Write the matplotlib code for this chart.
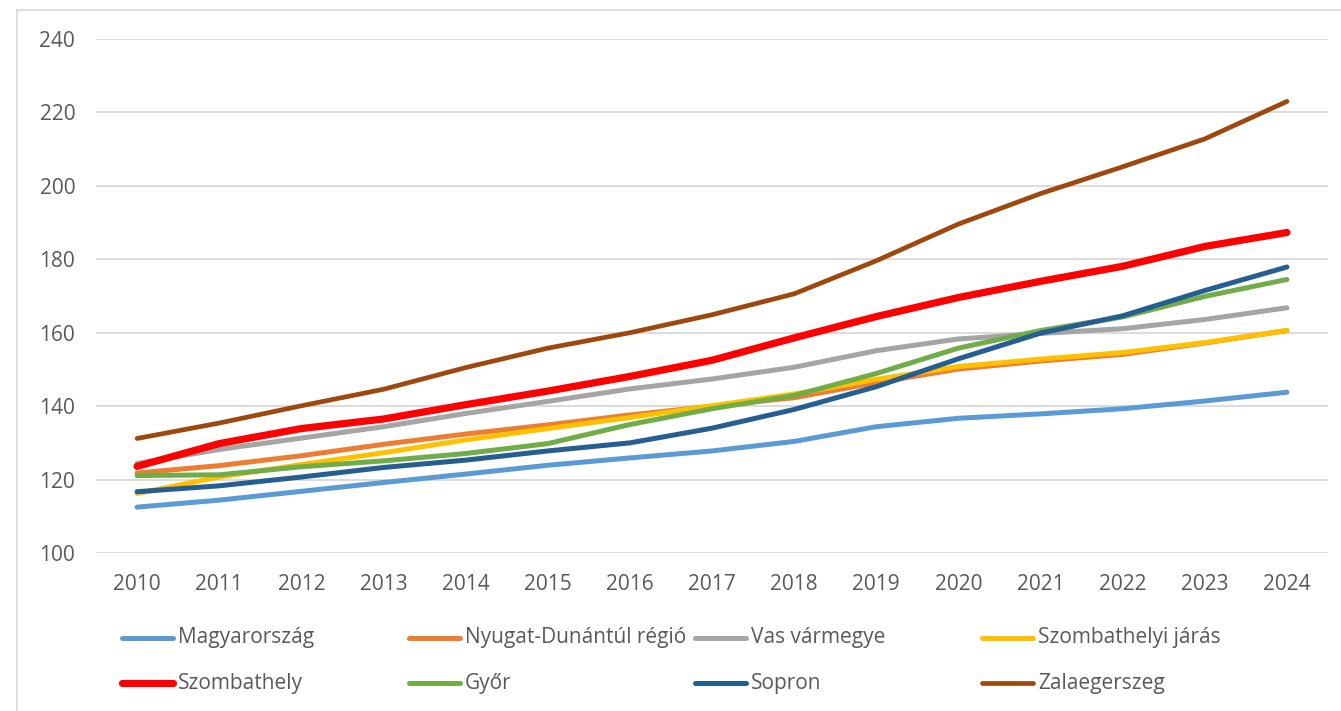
import matplotlib.pyplot as plt
from matplotlib.lines import Line2D

years = list(range(2010, 2025))

magyarorszag = [112.5, 114.4, 116.8, 119.2, 121.5, 123.9, 125.9, 127.8, 130.4, 134.4, 136.7, 137.9, 139.3, 141.4, 143.8]
nyugat_dunantul = [121.8, 123.8, 126.5, 129.6, 132.4, 134.9, 137.6, 140.0, 142.3, 146.4, 150.1, 152.3, 154.1, 157.2, 160.6]
vas_varmegye = [124.4, 128.2, 131.3, 134.4, 138.0, 141.3, 144.7, 147.4, 150.6, 155.1, 158.3, 159.8, 161.1, 163.6, 166.8]
szombathelyi_jaras = [116.2, 120.7, 124.1, 127.3, 130.8, 133.9, 136.9, 140.1, 143.3, 147.3, 150.8, 152.8, 154.6, 157.3, 160.6]
szombathely = [123.6, 129.8, 133.9, 136.5, 140.4, 144.1, 148.1, 152.5, 158.6, 164.4, 169.6, 174.0, 178.1, 183.5, 187.3]
gyor = [121.1, 121.3, 123.5, 125.1, 127.1, 129.8, 135.0, 139.3, 142.9, 148.9, 155.8, 160.6, 164.3, 169.9, 174.5]
sopron = [116.7, 118.3, 120.7, 123.3, 125.3, 127.8, 130.0, 134.0, 139.1, 145.3, 152.9, 159.9, 164.6, 171.5, 177.9]
zalaegerszeg = [131.2, 135.4, 140.1, 144.6, 150.5, 155.8, 160.0, 164.9, 170.6, 179.6, 189.6, 197.9, 205.2, 212.8, 223.0]

names = ["Magyarország", "Nyugat-Dunántúl régió", "Vas vármegye", "Szombathelyi járás",
         "Szombathely", "Győr", "Sopron", "Zalaegerszeg"]
series = [magyarorszag, nyugat_dunantul, vas_varmegye, szombathelyi_jaras,
          szombathely, gyor, sopron, zalaegerszeg]
colors = ["#5B9BD5", "#ED7D31", "#A5A5A5", "#FFC000", "#FF0000", "#70AD47", "#255E91", "#9E480E"]
widths = [3.6, 3.6, 3.6, 3.6, 5.2, 3.6, 3.6, 3.4]

plt.rcParams['font.family'] = ['Open Sans', 'DejaVu Sans']

fig = plt.figure(figsize=(13.41, 7.11), dpi=100)
ax = fig.add_axes([0.0716, 0.2222, 0.9187, 0.7229])

for vals, c, lw in zip(series, colors, widths):
    ax.plot(years, vals, color=c, linewidth=lw, solid_capstyle='round', solid_joinstyle='round')

ax.set_xlim(2009.5, 2024.5)
ax.set_ylim(100, 240)
ax.set_yticks(range(100, 241, 20))
ax.set_xticks(years)
ax.grid(axis='y', color='#d9d9d9', linewidth=1.3)
ax.set_axisbelow(True)
for s in ax.spines.values():
    s.set_visible(False)
ax.tick_params(length=0, labelsize=15, colors='#595959')
ax.tick_params(axis='y', pad=15)
ax.tick_params(axis='x', pad=15)

# chart area border (left and top only visible)
fig.add_artist(Line2D([17 / 1341, 17 / 1341], [0, 1 - 10 / 711], color='#d9d9d9', linewidth=1.2))
fig.add_artist(Line2D([17 / 1341, 1], [1 - 10 / 711, 1 - 10 / 711], color='#d9d9d9', linewidth=1.2))

# legend, laid out like the Excel one
col_x = [122, 409, 695, 982]
row_y = [638, 683]
for i, (name, c, lw) in enumerate(zip(names, colors, widths)):
    x0 = col_x[i % 4] / 1341
    y0 = 1 - row_y[i // 4] / 711
    fig.add_artist(Line2D([x0, x0 + 51 / 1341], [y0, y0], color=c, linewidth=lw,
                          solid_capstyle='round'))
    fig.text(x0 + 56 / 1341, y0, name, fontsize=15, color='#595959', va='center', ha='left')

fig.savefig('out.png', dpi=100)
